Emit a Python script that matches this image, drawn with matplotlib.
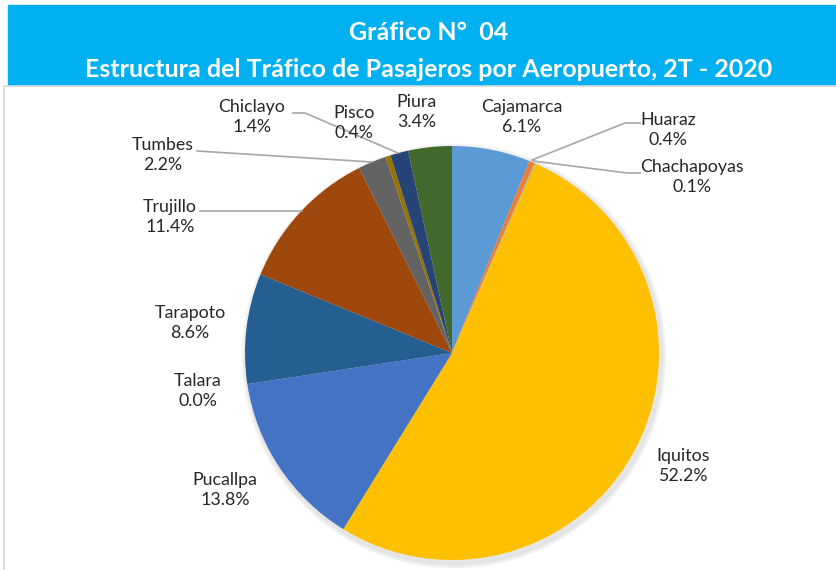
import matplotlib
matplotlib.use("Agg")
import matplotlib.pyplot as plt
from matplotlib.patches import Rectangle

airports = ["Cajamarca", "Huaraz", "Chachapoyas", "Iquitos", "Pucallpa", "Talara",
            "Tarapoto", "Trujillo", "Tumbes", "Pisco", "Chiclayo", "Piura"]
shares = [6.1, 0.4, 0.1, 52.2, 13.8, 0.0, 8.6, 11.4, 2.2, 0.4, 1.4, 3.4]
colors = ["#5B9BD5", "#ED7D31", "#A5A5A5", "#FFC000", "#4472C4", "#70AD47",
          "#255E91", "#9E480E", "#636363", "#997300", "#264478", "#43682B"]

# label block centres (pixels from top-left) and optional leader lines
label_pos = {
    "Cajamarca": (522, 117), "Huaraz": (668, 130), "Chachapoyas": (692, 177),
    "Iquitos": (683, 466), "Pucallpa": (225, 490), "Talara": (198, 391),
    "Tarapoto": (190, 323), "Trujillo": (170, 217), "Tumbes": (163, 155),
    "Pisco": (354, 123), "Chiclayo": (252, 117), "Piura": (417, 112),
}
leaders = {
    "Huaraz": [(532, 160), (625, 123), (640, 123)],
    "Chachapoyas": [(533, 161), (627, 173), (640, 173)],
    "Chiclayo": [(293, 113), (305, 113), (398, 153)],
    "Tumbes": [(197, 151), (372, 162)],
    "Trujillo": [(200, 211), (302, 211)],
}

W, H = 837, 570
fig = plt.figure(figsize=(W / 100, H / 100), dpi=100)
ax = fig.add_axes([0, 0, 1, 1])

# banner and chart frame
ax.add_patch(Rectangle((8, H - 86), W - 8, 81, color="#00B0F0", zorder=0))
ax.add_patch(Rectangle((4, -5), W, H - 86 + 5, facecolor="white",
                       edgecolor="#D9D9D9", linewidth=1.2, zorder=0))
ax.text(429, H - 33, "Gráfico N°  04", color="white", fontsize=18,
        fontweight="bold", family="Lato", ha="center", va="center")
ax.text(429, H - 70, "Estructura del Tráfico de Pasajeros por Aeropuerto, 2T - 2020",
        color="white", fontsize=18, fontweight="bold", family="Lato",
        ha="center", va="center")

cx, cy, r = 452, H - 353, 207
# soft shadow
for i in range(5):
    c = plt.Circle((cx + 2, cy - 3), r + 1 + i, color="black", alpha=0.02, zorder=1)
    ax.add_patch(c)

ax.pie(shares, colors=colors, startangle=90, counterclock=False,
       center=(cx, cy), radius=r, wedgeprops=dict(linewidth=0),
       frame=True)
ax.set_xlim(0, W)
ax.set_ylim(0, H)
ax.set_aspect("equal")
ax.axis("off")

for name, val in zip(airports, shares):
    x, y = label_pos[name]
    ax.text(x, H - y, f"{name}\n{val:.1f}%", ha="center", va="center",
            fontsize=12.8, family="Lato", color="#262626", linespacing=1.3, zorder=5)
    if name in leaders:
        pts = leaders[name]
        ax.plot([p[0] for p in pts], [H - p[1] for p in pts], color="#A6A6A6",
                linewidth=1.2, zorder=4)

fig.savefig("out.png", dpi=100)
